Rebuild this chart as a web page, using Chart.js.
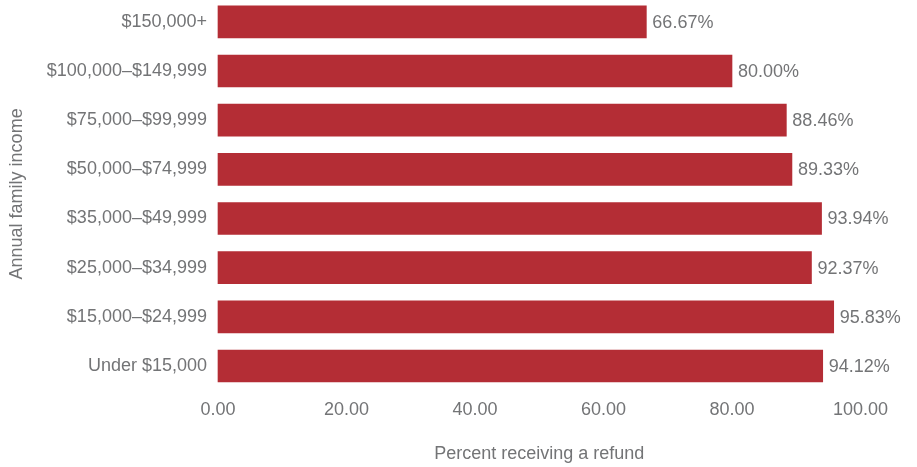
<!DOCTYPE html>
<html><head><meta charset="utf-8">
<script src="https://cdn.jsdelivr.net/npm/chart.js@4/dist/chart.umd.min.js"></script>
<style>html,body{margin:0;padding:0;background:#fff}#wrap{width:917px;height:467px}</style>
</head><body><div id="wrap"><canvas id="c"></canvas></div>
<script>
const categories = ["$150,000+","$100,000–$149,999","$75,000–$99,999","$50,000–$74,999","$35,000–$49,999","$25,000–$34,999","$15,000–$24,999","Under $15,000"];
const values = [66.67, 80.00, 88.46, 89.33, 93.94, 92.37, 95.83, 94.12];
const xTicks = [0, 20, 40, 60, 80, 100];
const xTitle = "Percent receiving a refund";
const yTitle = "Annual family income";

const FAM = "'Liberation Sans', Arial, sans-serif";
const FS = 18;
const GREY = '#737476';
const RED = '#b42d35';

const labelPlugin = {
  id: 'valueLabels',
  afterDatasetsDraw(chart) {
    const ctx = chart.ctx;
    const meta = chart.getDatasetMeta(0);
    ctx.save();
    ctx.font = FS + 'px ' + FAM;
    ctx.fillStyle = GREY;
    ctx.textAlign = 'left';
    ctx.textBaseline = 'middle';
    meta.data.forEach((bar, i) => {
      ctx.fillText(values[i].toFixed(2) + '%', bar.x + 6, bar.y + 1);
    });
    ctx.restore();
  }
};

new Chart(document.getElementById('c'), {
  type: 'bar',
  data: { labels: categories, datasets: [{ data: values, backgroundColor: RED, barThickness: 32, clip: false }] },
  options: {
    indexAxis: 'y',
    responsive: true, maintainAspectRatio: false, animation: false,
    layout: { padding: { top: 0, right: 0, bottom: 0, left: 0 } },
    plugins: { legend: { display: false }, tooltip: { enabled: false } },
    scales: {
      x: {
        min: 0, max: 100,
        afterBuildTicks(s) { s.ticks = xTicks.map(v => ({ value: v })); },
        afterFit(s) { s.height = 467 - 366; s.paddingRight = 56.5; },
        grid: { display: false, drawTicks: false },
        border: { display: false },
        ticks: { color: GREY, font: { family: FAM, size: FS }, padding: 33, callback: v => Number(v).toFixed(2), maxRotation: 0 },
        title: { display: true, text: xTitle, color: GREY, font: { family: FAM, size: FS }, padding: { top: 0, bottom: 2 } }
      },
      y: {
        offset: false,
        afterFit(s) { s.width = 218; },
        grid: { display: false, drawTicks: false },
        border: { display: false },
        ticks: { color: GREY, font: { family: FAM, size: FS }, padding: 11 },
        title: { display: true, text: yTitle, color: GREY, font: { family: FAM, size: FS }, padding: { top: 6, bottom: 0 } }
      }
    }
  },
  plugins: [labelPlugin]
});
</script></body></html>
